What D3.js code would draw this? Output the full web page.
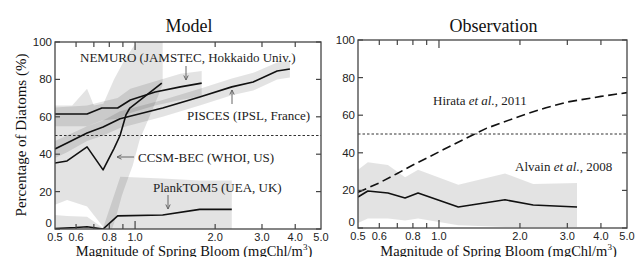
<!DOCTYPE html>
<html><head><meta charset="utf-8">
<script src="https://cdn.jsdelivr.net/npm/d3@7"></script>
<style>
body{margin:0;background:#fff}svg{display:block}
.serif{font-family:"Liberation Serif","Times New Roman","DejaVu Serif",serif}
.sans{font-family:"Liberation Sans",Arial,"DejaVu Sans",sans-serif}
</style>
</head><body>
<svg id="c" width="635" height="257"></svg>
<script>
// ---------- data ----------
const titles = ["Model", "Observation"];
const xTickLabels = [0.5, 0.6, 0.8, 1.0, 2.0, 3.0, 4.0, 5.0];
const xMinorTicks = [0.6, 0.7, 0.8, 0.9, 2, 3, 4];
const xMajorTicks = [1];
const yTicks = [0, 20, 40, 60, 80, 100];
const threshold = 50;

// Model panel
const nemuroChl = [0.5, 0.66, 0.75, 0.86, 0.96, 1.19, 1.48, 1.78];
const nemuroPct = [61.5, 61.5, 64.7, 64.7, 69, 73.3, 76, 78];
const nemuroHi  = [65, 66, 68, 70, 75, 79, 83, 84.5];
const nemuroLo  = [55, 55, 58, 59, 62, 66, 69, 71];

const piscesChl = [0.5, 0.555, 0.66, 0.758, 0.878, 1.27, 1.75, 2.31, 2.78, 3.42, 3.82];
const piscesPct = [42.8, 46, 51.3, 54.5, 59, 64.7, 70.6, 76, 78.6, 84.5, 85.6];
const piscesHi  = [47, 50, 55, 58, 63, 69, 75, 80.5, 83.5, 89, 90];
const piscesLo  = [38, 41, 47, 50, 54, 60, 66, 71.5, 74, 80, 81];

const ccsmChl = [0.5, 0.555, 0.66, 0.758, 0.833, 0.878, 0.924, 0.956, 1.26];
const ccsmPct = [35.3, 36.4, 43.9, 31.6, 43, 50, 61, 64.7, 78];
const ccsmHiChl = [0.5, 0.58, 0.66, 0.70, 0.76, 0.833, 0.909, 0.99, 1.02, 1.27];
const ccsmHiPct = [66, 66, 75, 66, 67, 80, 90, 98, 100, 100];
const ccsmLoChl = [0.5, 0.555, 0.66, 0.76, 0.819, 0.848, 0.893, 0.94, 0.98, 1.04, 1.14, 1.27];
const ccsmLoPct = [13, 15.5, 12, 1, 0, 6.4, 18, 27, 34, 47.6, 61, 77];

const plankChl = [0.5, 0.6, 0.66, 0.758, 0.86, 1.27, 1.75, 2.31];
const plankPct = [0.3, 0.8, 1.2, 0, 7, 7.5, 10.5, 10.5];
const plankBandChl = [0.5, 0.555, 0.66, 0.758, 0.88, 1.27, 1.75, 2.31];
const plankHi = [7.5, 7, 6.5, 0.5, 28, 27, 26, 26];
const plankLo = [0, 0, 0, 0, 0, 0, 0, 0];

// Observation panel
const hirataChl = [0.5, 0.6, 0.7, 0.8, 1.0, 1.25, 1.5, 2.0, 2.5, 3.0, 4.0, 5.0];
const hirataPct = [19, 24, 29, 33.5, 40.5, 47.5, 53, 59.5, 64, 67, 70, 72];

const alvainChl = [0.5, 0.544, 0.646, 0.748, 0.836, 1.18, 1.76, 2.24, 3.26];
const alvainPct = [16.5, 19.7, 18.6, 16, 18.6, 11.2, 15, 12.2, 11.2];
const alvainHi  = [31, 35, 33.5, 27, 31, 23, 29, 23.4, 24];
const alvainLo  = [2.6, 5, 5, 4, 5, 1.5, 0.5, 0.5, 0.5];

// ---------- drawing ----------
const svg = d3.select("#c");
svg.append("rect").attr("width", 635).attr("height", 257).attr("fill", "#fff");

const panels = [
  {x0: 55, x1: 321, y0: 42, y1: 229},
  {x0: 358, x1: 627, y0: 40, y1: 228}
];
panels.forEach(p => {
  p.x = d3.scaleLog().domain([0.5, 5]).range([p.x0, p.x1]);
  p.y = d3.scaleLinear().domain([0, 100]).range([p.y1, p.y0]);
});

const zip = (a, b) => a.map((v, i) => [v, b[i]]);
const BAND = {fill: "#000", op: 0.11};

function band(p, chl, hi, lo) {
  const a = d3.area().x(d => p.x(d[0])).y0(d => p.y(d[2])).y1(d => p.y(d[1]));
  p.g.append("path").datum(chl.map((c, i) => [c, hi[i], lo[i]]))
    .attr("d", a).attr("fill", BAND.fill).attr("fill-opacity", BAND.op);
}
function poly(p, hc, hp, lc, lp) {
  const pts = zip(hc, hp).concat(zip(lc, lp).reverse());
  p.g.append("path").datum(pts)
    .attr("d", d3.line().x(d => p.x(d[0])).y(d => p.y(d[1])).curve(d3.curveLinearClosed))
    .attr("fill", BAND.fill).attr("fill-opacity", BAND.op);
}
function line(p, chl, pct, dash, w) {
  p.g.append("path").datum(zip(chl, pct))
    .attr("d", d3.line().x(d => p.x(d[0])).y(d => p.y(d[1])))
    .attr("fill", "none").attr("stroke", "#111").attr("stroke-width", w || 1.6)
    .attr("stroke-linejoin", "round")
    .attr("stroke-dasharray", dash || null);
}

panels.forEach((p, i) => {
  svg.append("clipPath").attr("id", "clip" + i).append("rect")
    .attr("x", p.x0).attr("y", p.y0).attr("width", p.x1 - p.x0).attr("height", p.y1 - p.y0);
  p.g = svg.append("g").attr("clip-path", `url(#clip${i})`);
});

const L = panels[0], R = panels[1];
poly(L, ccsmHiChl, ccsmHiPct, ccsmLoChl, ccsmLoPct);
band(L, plankBandChl, plankHi, plankLo);
band(L, nemuroChl, nemuroHi, nemuroLo);
band(L, piscesChl, piscesHi, piscesLo);
band(R, alvainChl, alvainHi, alvainLo);

panels.forEach(p => {
  p.g.append("line").attr("x1", p.x0).attr("x2", p.x1)
    .attr("y1", p.y(threshold)).attr("y2", p.y(threshold))
    .attr("stroke", "#333").attr("stroke-width", 1).attr("stroke-dasharray", "2.5,2");
});

line(L, nemuroChl, nemuroPct);
line(L, piscesChl, piscesPct);
line(L, ccsmChl, ccsmPct);
line(L, plankChl, plankPct);
line(R, hirataChl, hirataPct, "9,4.5", 1.6);
line(R, alvainChl, alvainPct);

panels.forEach((p, i) => {
  const a = svg.append("g");
  a.append("rect").attr("x", p.x0).attr("y", p.y0).attr("width", p.x1 - p.x0).attr("height", p.y1 - p.y0)
    .attr("fill", "none").attr("stroke", "#444").attr("stroke-width", 1.3);
  const tk = (x1, y1, x2, y2) => a.append("line").attr("x1", x1).attr("y1", y1).attr("x2", x2).attr("y2", y2)
    .attr("stroke", "#444").attr("stroke-width", 1.2);
  yTicks.forEach(v => {
    const y = p.y(v);
    tk(p.x0, y, p.x0 + 5, y);
    tk(p.x1, y, p.x1 - 5, y);
    a.append("text").attr("class", "sans").attr("x", p.x0 - 3).attr("y", y + (v === 0 ? -2 : 4)).attr("text-anchor", "end")
      .attr("font-size", 11.5).attr("fill", "#222").text(v);
  });
  xMinorTicks.forEach(v => { const x = p.x(v); tk(x, p.y1, x, p.y1 - 5); tk(x, p.y0, x, p.y0 + 5); });
  xMajorTicks.forEach(v => { const x = p.x(v); tk(x, p.y1, x, p.y1 - 8); tk(x, p.y0, x, p.y0 + 8); });
  xTickLabels.forEach(v => {
    a.append("text").attr("class", "sans").attr("x", p.x(v)).attr("y", p.y1 + 11.5).attr("text-anchor", "middle")
      .attr("font-size", 11).attr("fill", "#222").text(v.toFixed(1));
  });
  const cx = (p.x0 + p.x1) / 2;
  a.append("text").attr("class", "serif").attr("x", cx + 1).attr("y", 32).attr("text-anchor", "middle")
    .attr("font-size", 18).attr("fill", "#111").text(titles[i]);
  const xl = a.append("text").attr("class", "serif").attr("x", cx + 6).attr("y", 255.5).attr("text-anchor", "middle")
    .attr("font-size", 14.5).attr("fill", "#111");
  xl.append("tspan").text("Magnitude of Spring Bloom (mgChl/m");
  xl.append("tspan").attr("font-size", 9).attr("dy", -6).text("3");
  xl.append("tspan").attr("dy", 6).text(")");
});

svg.append("text").attr("class", "serif").attr("transform", "translate(26,135) rotate(-90)").attr("text-anchor", "middle")
  .attr("font-size", 15).attr("fill", "#111").text("Percentage of Diatoms (%)");

function note(x, y, parts) {
  const t = svg.append("text").attr("class", "serif").attr("x", x).attr("y", y)
    .attr("font-size", 13).attr("fill", "#222");
  parts.forEach(s => t.append("tspan").attr("font-style", s[1] ? "italic" : null).text(s[0]));
}
function arrow(x1, y1, x2, y2) {
  const g = svg.append("g").attr("stroke", "#666").attr("stroke-width", 1).attr("fill", "none");
  g.append("line").attr("x1", x1).attr("y1", y1).attr("x2", x2).attr("y2", y2);
  const ang = Math.atan2(y2 - y1, x2 - x1), h = 5, s = 0.45;
  g.append("path").attr("d",
    `M${x2 - h * Math.cos(ang - s)},${y2 - h * Math.sin(ang - s)}L${x2},${y2}L${x2 - h * Math.cos(ang + s)},${y2 - h * Math.sin(ang + s)}`);
}
note(80, 62, [["NEMURO (JAMSTEC, Hokkaido Univ.)"]]);
arrow(186, 66, 186, 80);
note(187, 120, [["PISCES (IPSL, France)"]]);
arrow(232, 104, 232, 90);
note(138, 162, [["CCSM-BEC (WHOI, US)"]]);
arrow(134, 157, 117, 157);
note(153, 192, [["PlankTOM5 (UEA, UK)"]]);
arrow(168, 195, 168, 209);
note(433, 105, [["Hirata "], ["et al.", true], [", 2011"]]);
note(515, 171, [["Alvain "], ["et al.", true], [", 2008"]]);
</script>
</body></html>
